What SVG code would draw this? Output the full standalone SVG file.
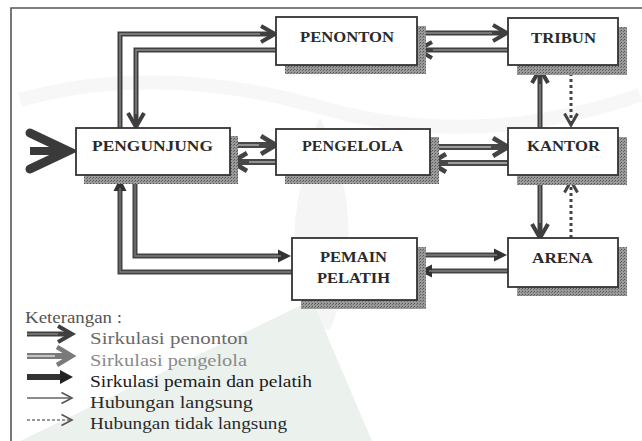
<svg xmlns="http://www.w3.org/2000/svg" width="642" height="441" viewBox="0 0 642 441">
<style>
.lbl{font-family:"Liberation Serif","Times New Roman",serif;font-weight:bold;font-size:15px;fill:#2a2a2a}
.leg{font-family:"Liberation Serif","Times New Roman",serif;font-size:16px}
.box{fill:#fff;stroke:#333;stroke-width:1.8}
.sh{fill:url(#stip)}
.po{fill:none;stroke:#3f3f3f;stroke-width:5}
.pi{fill:none;stroke:#8c8c8c;stroke-width:1.3}
.go{fill:none;stroke:#484848;stroke-width:6}
.gi{fill:none;stroke:#9c9c9c;stroke-width:1.8}
.mo{fill:none;stroke:#444;stroke-width:5}
.mi{fill:none;stroke:#7c7c7c;stroke-width:1.3}
.dot{fill:none;stroke:#444;stroke-width:3;stroke-dasharray:3 3}
</style>
<defs>
<pattern id="stip" width="3" height="3" patternUnits="userSpaceOnUse">
<rect width="3" height="3" fill="#9a9a9a"/><rect width="1" height="1" fill="#555"/><rect x="2" y="1" width="1" height="1" fill="#6a6a6a"/>
</pattern>
<marker id="openP" markerUnits="userSpaceOnUse" viewBox="0 0 20 20" markerWidth="20" markerHeight="20" refX="12" refY="10" orient="auto" overflow="visible">
<path d="M2,2 L16,10 L2,18" fill="none" stroke="#3f3f3f" stroke-width="4"/>
</marker>
<marker id="openG" markerUnits="userSpaceOnUse" viewBox="0 0 22 22" markerWidth="22" markerHeight="22" refX="13" refY="11" orient="auto" overflow="visible">
<path d="M2,2 L17,11 L2,20" fill="none" stroke="#444" stroke-width="4.6"/>
</marker>
<marker id="openGL" markerUnits="userSpaceOnUse" viewBox="0 0 22 22" markerWidth="22" markerHeight="22" refX="13" refY="11" orient="auto" overflow="visible">
<path d="M2,2 L17,11 L2,20" fill="none" stroke="#7a7a7a" stroke-width="4.6"/>
</marker>
<marker id="fillM" markerUnits="userSpaceOnUse" viewBox="0 0 13 13" markerWidth="13" markerHeight="13" refX="6" refY="6.5" orient="auto" overflow="visible">
<path d="M0,0 L13,6.5 L0,13 z" fill="#333"/>
</marker>
<marker id="fillL" markerUnits="userSpaceOnUse" viewBox="0 0 14 14" markerWidth="14" markerHeight="14" refX="6" refY="7" orient="auto" overflow="visible">
<path d="M0,0 L13,7 L0,14 z" fill="#222"/>
</marker>
<marker id="openD" markerUnits="userSpaceOnUse" viewBox="0 0 16 16" markerWidth="16" markerHeight="16" refX="11" refY="8" orient="auto" overflow="visible">
<path d="M1.5,1.5 L13,8 L1.5,14.5" fill="none" stroke="#444" stroke-width="3"/>
</marker>
<marker id="openT" markerUnits="userSpaceOnUse" viewBox="0 0 14 14" markerWidth="14" markerHeight="14" refX="11" refY="7" orient="auto" overflow="visible">
<path d="M1.5,1.5 L12,7 L1.5,12.5" fill="none" stroke="#555" stroke-width="1.6"/>
</marker>
</defs>

<rect width="642" height="441" fill="#fff"/>
<g id="watermark">
<path d="M20,100 Q160,60 330,110 Q480,150 640,95" fill="none" stroke="#f7f7f7" stroke-width="14"/>
<path d="M320,118 C352,180 360,260 330,330 C300,330 285,260 300,190 C305,160 312,135 320,118 z" fill="#f5f5f5"/>
<polygon points="20,441 312,300 372,441" fill="#ebf2ed"/>
</g>

<path d="M11,441 V8 H642" fill="none" stroke="#555" stroke-width="1.6"/>

<g id="connectors">
<!-- entrance -->
<path d="M30,151 H64" stroke="#3a3a3a" stroke-width="8" fill="none"/>
<path d="M30,133 L68,151 L30,169" stroke="#3a3a3a" stroke-width="9" fill="none" stroke-linejoin="miter" stroke-linecap="round"/>
<!-- penonton circulation -->
<path class="po" d="M120,128 V34 H271" marker-end="url(#openP)"/><path class="pi" d="M120,128 V34 H260"/>
<path class="po" d="M276,50 H136 V123" marker-end="url(#openP)"/><path class="pi" d="M276,50 H136 V114"/>
<path class="po" d="M417,33 H503" marker-end="url(#openP)"/><path class="pi" d="M417,33 H492"/>
<path class="po" d="M508,50 H422" marker-end="url(#openP)"/><path class="pi" d="M508,50 H433"/>
<path class="po" d="M540,128 V73" marker-end="url(#openP)"/><path class="pi" d="M540,128 V84"/>
<path class="po" d="M540,175 V234" marker-end="url(#openP)"/><path class="pi" d="M540,175 V223"/>
<!-- pengelola circulation -->
<path class="go" d="M230,145 H272" marker-end="url(#openG)"/><path class="gi" d="M230,145 H259"/>
<path class="go" d="M276,162 H236" marker-end="url(#openG)"/><path class="gi" d="M276,162 H249"/>
<path class="go" d="M430,147 H504" marker-end="url(#openG)"/><path class="gi" d="M430,147 H491"/>
<path class="go" d="M508,163 H435" marker-end="url(#openG)"/><path class="gi" d="M508,163 H448"/>
<!-- indirect -->
<path class="dot" d="M571,67 V123" marker-end="url(#openD)"/>
<path class="dot" d="M571,238 V183" marker-end="url(#openD)"/>
<!-- pemain circulation -->
<path class="mo" d="M135,175 V256 H284" marker-end="url(#fillM)"/><path class="mi" d="M135,175 V256 H281"/>
<path class="mo" d="M292,272 H120 V185" marker-end="url(#fillM)"/><path class="mi" d="M292,272 H120 V188"/>
<path class="mo" d="M417,255 H500" marker-end="url(#fillM)"/><path class="mi" d="M417,255 H497"/>
<path class="mo" d="M508,271 H426" marker-end="url(#fillM)"/><path class="mi" d="M508,271 H429"/>
</g>

<g id="penonton"><rect class="sh" x="285" y="26" width="141" height="48"/><rect class="box" x="276" y="17" width="141" height="48"/><text class="lbl" x="300" y="42" textLength="94" lengthAdjust="spacingAndGlyphs">PENONTON</text></g>
<g id="tribun"><rect class="sh" x="517" y="27" width="110" height="48"/><rect class="box" x="508" y="18" width="110" height="47"/><text class="lbl" x="531" y="43" textLength="65" lengthAdjust="spacingAndGlyphs">TRIBUN</text></g>
<g id="pengunjung"><rect class="sh" x="84" y="136" width="154" height="48"/><rect class="box" x="76" y="128" width="154" height="47"/><text class="lbl" x="92" y="151" textLength="121" lengthAdjust="spacingAndGlyphs">PENGUNJUNG</text></g>
<g id="pengelola"><rect class="sh" x="285" y="137" width="154" height="47"/><rect class="box" x="276" y="129" width="154" height="46"/><text class="lbl" x="302" y="151" textLength="101" lengthAdjust="spacingAndGlyphs">PENGELOLA</text></g>
<g id="kantor"><rect class="sh" x="517" y="137" width="110" height="48"/><rect class="box" x="508" y="128" width="110" height="47"/><text class="lbl" x="527" y="151" textLength="73" lengthAdjust="spacingAndGlyphs">KANTOR</text></g>
<g id="pemain-pelatih"><rect class="sh" x="301" y="247" width="125" height="62"/><rect class="box" x="292" y="238" width="125" height="62"/><text class="lbl" x="320" y="262" textLength="67" lengthAdjust="spacingAndGlyphs">PEMAIN</text><text class="lbl" x="317" y="283" textLength="73" lengthAdjust="spacingAndGlyphs">PELATIH</text></g>
<g id="arena"><rect class="sh" x="517" y="247" width="110" height="49"/><rect class="box" x="508" y="238" width="110" height="49"/><text class="lbl" x="532" y="263" textLength="61" lengthAdjust="spacingAndGlyphs">ARENA</text></g>

<g id="legend">
<text class="leg" x="25" y="323" fill="#555" textLength="97" lengthAdjust="spacingAndGlyphs">Keterangan :</text>
<path class="po" d="M27,334 H68" marker-end="url(#openP)"/><path class="pi" d="M27,334 H58"/>
<text class="leg" x="90" y="344" fill="#6a6a6a" textLength="158" lengthAdjust="spacingAndGlyphs">Sirkulasi penonton</text>
<path d="M27,356 H68" fill="none" stroke="#7a7a7a" stroke-width="6" marker-end="url(#openGL)"/><path d="M27,356 H55" fill="none" stroke="#c4c4c4" stroke-width="2"/>
<text class="leg" x="90" y="366" fill="#8a8a8a" textLength="157" lengthAdjust="spacingAndGlyphs">Sirkulasi pengelola</text>
<path d="M27,377 H66" fill="none" stroke="#333" stroke-width="6" marker-end="url(#fillL)"/>
<text class="leg" x="90" y="387" fill="#1a1a1a" textLength="222" lengthAdjust="spacingAndGlyphs">Sirkulasi pemain dan pelatih</text>
<path d="M27,398 H71" fill="none" stroke="#666" stroke-width="1.5" marker-end="url(#openT)"/>
<text class="leg" x="90" y="408" fill="#2a2a2a" textLength="163" lengthAdjust="spacingAndGlyphs">Hubungan langsung</text>
<path d="M27,420 H71" fill="none" stroke="#777" stroke-width="1.5" stroke-dasharray="3 2" marker-end="url(#openT)"/>
<text class="leg" x="90" y="429" fill="#2a2a2a" textLength="197" lengthAdjust="spacingAndGlyphs">Hubungan tidak langsung</text>
</g>
</svg>
